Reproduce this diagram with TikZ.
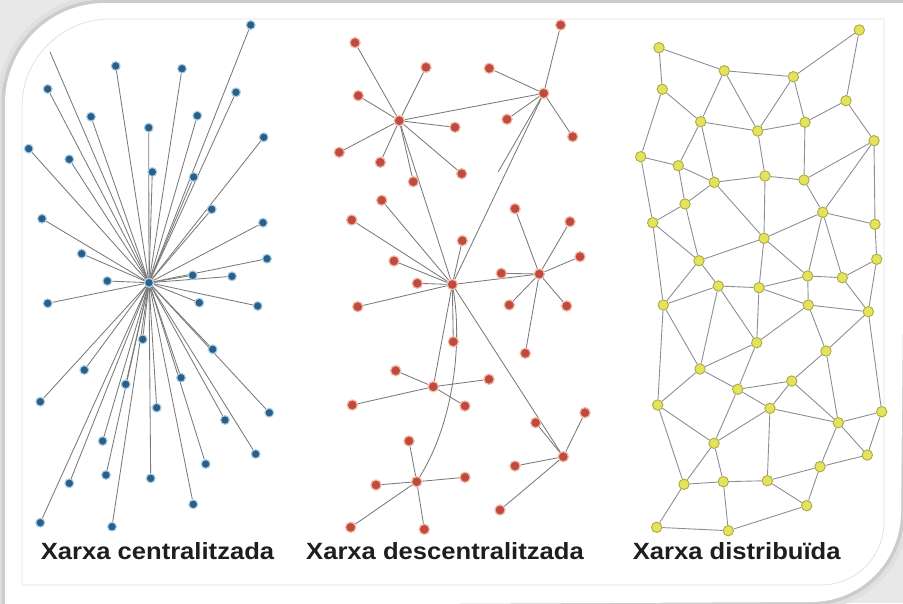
\documentclass[tikz,border=0pt]{standalone}
\usepackage{fontspec}
\setmainfont{Liberation Sans}
\usepackage{graphicx}
\pgfdeclarelayer{frame}
\pgfdeclarelayer{edges}
\pgfsetlayers{frame,edges,main}
\definecolor{bggray}{HTML}{E8E8E8}
\definecolor{shadowgray}{HTML}{CCCCCC}
\definecolor{panelline}{HTML}{E2E2E2}
\definecolor{dotblue}{HTML}{2B5F89}
\definecolor{haloblue}{HTML}{A6CFE4}
\definecolor{dotred}{HTML}{C04A3D}
\definecolor{halored}{HTML}{F3B7A8}
\definecolor{dotyellow}{HTML}{E3E35E}
\definecolor{rimyellow}{HTML}{ABAB3E}
\definecolor{edgegray}{HTML}{7A7A7A}
\definecolor{edgeyel}{HTML}{8E8E9A}
\definecolor{labeltext}{HTML}{1E1E1E}
\newcommand\cardpath{(5,606) -- (5,103) .. controls (5,47.8) and (49.8,3) .. (105,3) -- (906,3) -- (901,512) .. controls (901,561.7) and (860.7,602) .. (811,602) -- (5,606) -- cycle}
\newcommand\panelpath{(22,585) -- (22,107) .. controls (22,58.4) and (61.4,19) .. (110,19) -- (884,19) -- (884,522) .. controls (884,556.8) and (855.8,585) .. (821,585) -- cycle}
\begin{document}
\begin{tikzpicture}[x=1pt,y=-1pt,
  bdot/.style={circle,inner sep=0pt,minimum size=8.8pt,fill=dotblue,draw=haloblue,line width=1.1pt},
  rdot/.style={circle,inner sep=0pt,minimum size=10.2pt,fill=dotred,draw=halored,line width=1.2pt},
  ydot/.style={circle,inner sep=0pt,minimum size=10.4pt,fill=dotyellow,draw=rimyellow,line width=0.9pt},
  bedge/.style={draw=edgegray,line width=0.85pt},
  redge/.style={draw=edgegray,line width=0.85pt},
  yedge/.style={draw=edgeyel,line width=0.9pt},
  lbl/.style={anchor=base,inner sep=0pt,text=labeltext,font=\fontsize{23.5}{28}\selectfont\bfseries}]
\useasboundingbox (0,0) rectangle (903,603);
% ---------- frame ----------
\begin{pgfonlayer}{frame}
  \fill[bggray] (0,0) rectangle (903,603);
  \draw[shadowgray!60,line width=16pt] \cardpath;
  \draw[shadowgray,line width=7pt] \cardpath;
  \fill[white] \cardpath;
  \filldraw[fill=white,draw=panelline,line width=0.8pt] \panelpath;
\end{pgfonlayer}
% ---------- centralised ----------
\node[bdot] (bc) at (149,282.7) {};
\coordinate (bfree) at (50,52);
\begin{pgfonlayer}{edges}\draw[bedge] (bc) -- (bfree);\end{pgfonlayer}
\foreach \px/\py [count=\i] in {250.7/25,115.7/66,182/68.7,47.7/89,236/92.3,91/116.7,197.3/115.7,148.7/127.7,28.7/148.7,263.7/137.3,69.3/159.3,152.3/172,193.7/177,211.7/209.3,42/218.7,263/222.7,81.7/253.7,267/258.7,107.3/281,192.7/275.3,232/276.3,47.7/303.3,199.3/302.7,257.7/306,142.7/339.3,212.7/349.3,84.3/370,181/377.7,125.7/384.3,40.3/401.7,156.7/407.7,269.3/412.7,225/420,102.7/441,255.7/454,205.7/464,106/475,69.3/483.3,150.7/478.3,193.3/504.3,40.3/522.7,112/526.7}{
  \node[bdot] (b\i) at (\px,\py) {};
  \begin{pgfonlayer}{edges}\draw[bedge] (bc) -- (b\i);\end{pgfonlayer}
}
% ---------- decentralised ----------
\node[rdot] (rA) at (399.3,120.7) {};
\node[rdot] (rB) at (543.7,93.3) {};
\node[rdot] (rC) at (539.3,274) {};
\node[rdot] (rD) at (452.3,284.5) {};
\node[rdot] (rE) at (433.3,386.7) {};
\node[rdot] (rF) at (563.3,456.7) {};
\node[rdot] (rG) at (416.7,481.7) {};
\coordinate (rfree) at (498.3,171.7);
\foreach \h/\px/\py [count=\i] in {rA/355/42.7,rA/426/67.3,rA/358.3/95.7,rA/455/127.3,rA/339.3/152.3,rA/380.3/162.3,rA/461.7/173.7,rA/413.3/181.7,
  rB/560.7/25,rB/489.3/68.3,rB/507/119.3,rB/572.7/136.7,
  rC/515/208.7,rC/570/221.7,rC/580/256.7,rC/501.3/273.3,rC/509.3/305,rC/566.7/306,rC/525.3/353.3,
  rD/381.7/200.3,rD/351.7/220,rD/394/261,rD/417.3/283.3,rD/462.3/240.7,rD/357.7/306.7,rD/453.3/341.7,
  rE/395.7/370.7,rE/489/379.3,rE/352.3/405,rE/465/406,
  rF/585/412.7,rF/515/466,rF/500/510,rF/535.7/422.7,
  rG/409/441,rG/376/485,rG/465/477.3,rG/350.7/527.3,rG/424.3/529.3}{
  \node[rdot] (r\i) at (\px,\py) {};
  \begin{pgfonlayer}{edges}\draw[redge] (\h) -- (r\i);\end{pgfonlayer}
}
\begin{pgfonlayer}{edges}
  \draw[redge] (rA) -- (rB);
  \draw[redge] (rA) -- (rD);
  \draw[redge] (rB) -- (rD);
  \draw[redge] (rB) -- (rfree);
  \draw[redge] (rD) -- (rC);
  \draw[redge] (rD) -- (rE);
  \draw[redge] (rD) -- (rF);
  \draw[redge] (rD) .. controls (462,340) and (455,420) .. (rG);
\end{pgfonlayer}
% ---------- distributed ----------
\foreach \n/\px/\py in {n1/859.3/30,n2/659/47.7,n3/724.3/70.7,n4/793.3/76.7,n5/662.3/89.3,n6/846/100.7,n7/700.7/121.7,n8/757.7/131,n9/805/122.3,n10/874/140.7,n11/640.7/156.7,n12/678.3/165.7,n13/765/176,n14/804/180,n15/714.3/182.3,n16/685/204,n17/822.7/212.3,n18/652.7/222.7,n19/875/224.3,n20/764/238.3,n21/699/260.7,n22/876.7/259.3,n23/807.7/276,n24/842.3/277.7,n25/718.3/286,n26/759/287.7,
  m1/663.3/305,m2/808.3/305,m3/868.3/311.7,m4/756.7/342.7,m5/826/351,m6/700/369,m7/791.7/381,m8/737.7/389.3,m9/657.7/405,m10/770/408.3,m11/838.3/422.7,m12/881.7/411.7,m13/714/443.3,m14/867.3/455,m15/820/466.7,m16/684/484.3,m17/723.3/481.7,m18/767.3/480.7,m19/806.7/505.7,m20/656.7/527.3,m21/728.3/530.7}{
  \node[ydot] (\n) at (\px,\py) {};
}
\begin{pgfonlayer}{edges}
\foreach \a/\b in {n2/n3,n2/n5,n3/n4,n3/n7,n3/n8,n4/n1,n4/n8,n4/n9,n1/n6,n6/n9,n6/n10,n5/n7,n5/n11,n7/n8,n7/n12,n7/n15,n8/n9,n8/n13,n9/n14,n10/n14,n10/n17,n10/n19,n11/n12,n11/n18,n12/n15,n12/n16,n15/n13,n15/n16,n15/n20,n13/n14,n13/n20,n14/n17,n16/n18,n16/n21,n17/n20,n17/n19,n17/n23,n17/n24,n18/n21,n18/m1,n20/n21,n20/n26,n20/n23,n19/n22,n21/n25,n21/m1,n22/n24,n22/m3,n23/n24,n23/n26,n23/m2,n24/m3,n25/n26,n25/m1,n25/m6,n25/m4,n26/m4,n26/m2,
  m2/m3,m2/m4,m2/m5,m3/m5,m3/m12,m4/m6,m4/m8,m5/m7,m5/m11,m6/m8,m6/m9,m1/m9,m1/m6,m7/m8,m7/m10,m7/m11,m8/m10,m8/m13,m9/m13,m9/m16,m10/m13,m10/m18,m10/m11,m11/m12,m11/m14,m11/m15,m12/m14,m13/m16,m13/m17,m14/m15,m15/m18,m15/m19,m16/m17,m16/m20,m17/m21,m17/m18,m18/m19,m19/m21,m20/m21}{
  \draw[yedge] (\a) -- (\b);
}
\end{pgfonlayer}
% ---------- labels ----------
\node[lbl] (t1) at (157.5,559.5) {\scalebox{1.09}[1]{Xarxa centralitzada}};
\node[lbl] (t2) at (445,559.5) {\scalebox{1.09}[1]{Xarxa descentralitzada}};
\node[lbl] (t3) at (736.7,559.5) {\scalebox{1.09}[1]{Xarxa distribuïda}};
\end{tikzpicture}
\end{document}
